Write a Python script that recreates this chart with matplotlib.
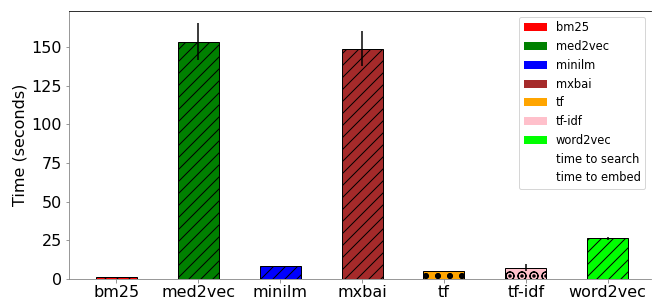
import numpy as np
import matplotlib.pyplot as plt
from matplotlib.patches import Patch

# ---------------- data ----------------
methods = ['bm25', 'med2vec', 'minilm', 'mxbai', 'tf', 'tf-idf', 'word2vec']
times = [1.0, 153.4, 8.4, 149.0, 5.4, 7.3, 26.3]
errors = [0.0, 12.0, 0.0, 11.5, 0.0, 2.3, 1.0]
colors = ['red', 'green', 'blue', 'brown', 'orange', 'pink', 'lime']
hatches = ['//', '//', '//', '//', 'o.', 'O.', '//']

# ---------------- figure ----------------
# rendered at 72 dpi so hatch spacing matches the original
fig = plt.figure(figsize=(653 / 72, 303 / 72), dpi=72)
ax = fig.add_axes([69 / 653, 24 / 303, 582 / 653, 268 / 303])

x = np.arange(len(methods))
for i in range(len(methods)):
    ax.bar(x[i], times[i], width=0.5, color=colors[i], edgecolor='black',
           hatch=hatches[i], linewidth=1)
    if errors[i] > 0:
        ax.errorbar(x[i], times[i], yerr=errors[i], color='black',
                    elinewidth=1.5, capsize=0, fmt='none')

ax.set_xticks(x)
ax.set_xticklabels(methods, fontsize=16)
ax.tick_params(axis='y', labelsize=16)
ax.tick_params(axis='x', pad=2.5)
ax.tick_params(colors='gray', labelcolor='black')
ax.set_ylabel('Time (seconds)', fontsize=16)
ax.set_xlim(-0.58, 6.53)
ax.set_ylim(0, 173.3)

ax.spines['right'].set_visible(False)
ax.spines['left'].set_color('gray')
ax.spines['bottom'].set_color('gray')
ax.spines['top'].set_color('black')

handles = [Patch(facecolor=c, label=m) for m, c in zip(methods, colors)]
handles.append(Patch(facecolor='none', edgecolor='none', label='time to search'))
handles.append(Patch(facecolor='none', edgecolor='none', label='time to embed'))
ax.legend(handles=handles, loc='upper right', fontsize=11.5)

fig.savefig('out.png', dpi=72)
